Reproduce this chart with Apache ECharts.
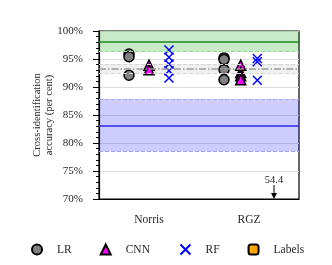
<!DOCTYPE html>
<html><head><meta charset="utf-8">
<script src="https://cdn.jsdelivr.net/npm/echarts@6/dist/echarts.min.js"></script>
<style>html,body{margin:0;padding:0;background:#fff}#c{width:332px;height:265px}</style>
</head><body><div id="c"></div>
<script>
// ---- data ----
const categories = ['Norris', 'RGZ'];
const yTicks = [70, 75, 80, 85, 90, 95, 100];
const lrNorris = [95.9, 95.4, 92.1];
const lrRGZ = [95.2, 94.9, 93.1, 91.3];
const cnnNorris = [93.9, 93.1];
const cnnRGZ = [93.9, 92.6, 92.0, 91.3];
const rfNorris = [96.6, 95.3, 94.1, 92.9, 91.6];
const rfRGZ = [95.1, 94.5, 91.2];
const labelsRGZ = [54.4];
const greenBand = [96.3, 100.0];
const greenMean = [98.1];
const grayBand = [92.5, 94.1];
const grayMean = [93.3];
const blueBand = [78.5, 87.8];
const blueMean = [83.1];

// ---- styles ----
const FONT = 'Liberation Serif';
const TXT = '#262626';
const offsets = { Norris: { LR: -20, CNN: 0, RF: 20, Labels: 40 }, RGZ: { LR: -25, CNN: -8.3, RF: 8.3, Labels: 25 } };
function pts(cat, model, vals) {
  return vals.map(v => ({ value: [cat, v], symbolOffset: [offsets[cat][model], 0] }));
}
const yMin = yTicks[0], yMax = yTicks[yTicks.length - 1];
const crossPath = 'path://M0,0L10,10M10,0L0,10';

const chart = echarts.init(document.getElementById('c'), null, { renderer: 'canvas' });
chart.setOption({
  animation: false,
  textStyle: { fontFamily: FONT },
  grid: { left: 99, right: 33, top: 31, bottom: 66, show: true, borderColor: '#000', borderWidth: 1.2, backgroundColor: 'transparent', containLabel: false, outerBoundsMode: 'none' },
  xAxis: {
    type: 'category', data: categories, boundaryGap: true,
    axisLine: { lineStyle: { color: '#000', width: 1.2 } },
    axisTick: { alignWithLabel: true, length: 5, lineStyle: { color: '#000' } },
    axisLabel: { color: TXT, fontFamily: FONT, fontSize: 11.5, margin: 15 },
    splitLine: { show: false }
  },
  yAxis: {
    type: 'value', min: yMin, max: yMax, interval: 5,
    name: 'Cross-identification\naccuracy (per cent)', nameLocation: 'middle', nameGap: 44, nameMoveOverlap: false,
    nameTextStyle: { color: TXT, fontFamily: FONT, fontSize: 10.5, lineHeight: 12 },
    axisLine: { show: true, lineStyle: { color: '#000', width: 1.2 } },
    axisTick: { show: true, length: 6, lineStyle: { color: '#000' } },
    minorTick: { show: true, splitNumber: 5, length: 3, lineStyle: { color: '#000' } },
    axisLabel: { color: TXT, fontFamily: FONT, fontSize: 11, margin: 16, formatter: '{value}%' },
    splitLine: { show: true, lineStyle: { color: '#dddddd', width: 1 } }
  },
  legend: {
    data: ['LR', 'CNN', 'RF', 'Labels'], left: 26, top: 237, itemGap: 28,
    itemWidth: 10, itemHeight: 10,
    textStyle: { color: TXT, fontFamily: FONT, fontSize: 11.5, padding: [0, 0, 0, 10] }
  },
  series: [
    { type: 'line', name: 'bands', data: [], silent: true, z: 1,
      markArea: { silent: true, data: [
        [{ yAxis: greenBand[0], itemStyle: { color: 'rgba(0,160,0,0.22)' } }, { yAxis: greenBand[1] }],
        [{ yAxis: grayBand[0], itemStyle: { color: 'rgba(128,128,128,0.12)' } }, { yAxis: grayBand[1] }],
        [{ yAxis: blueBand[0], itemStyle: { color: 'rgba(0,0,255,0.2)' } }, { yAxis: blueBand[1] }]
      ] },
      markLine: { silent: true, symbol: 'none', label: { show: false }, data: [
        { yAxis: greenMean[0], lineStyle: { color: '#1f8a1f', width: 1.5, type: 'solid' } },
        { yAxis: greenBand[0], lineStyle: { color: '#99d699', width: 1, type: [4, 2] } },
        { yAxis: grayMean[0], lineStyle: { color: '#9a9a9a', width: 1.5, type: [7, 2, 1.5, 2] } },
        { yAxis: grayBand[0], lineStyle: { color: '#d4d4d4', width: 1, type: [4, 2] } },
        { yAxis: grayBand[1], lineStyle: { color: '#d4d4d4', width: 1, type: [4, 2] } },
        { yAxis: blueMean[0], lineStyle: { color: '#2b2be6', width: 1.5, type: 'solid' } },
        { yAxis: blueBand[0], lineStyle: { color: '#a3a3ff', width: 1, type: [4, 2] } },
        { yAxis: blueBand[1], lineStyle: { color: '#a3a3ff', width: 1, type: [4, 2] } }
      ] }
    },
    { type: 'scatter', name: 'LR', symbol: 'circle', symbolSize: 10, z: 3,
      itemStyle: { color: '#808080', borderColor: '#000', borderWidth: 1.5, opacity: 1 },
      data: pts('Norris', 'LR', lrNorris).concat(pts('RGZ', 'LR', lrRGZ)) },
    { type: 'scatter', name: 'CNN', symbol: 'triangle', symbolSize: 10, z: 3,
      itemStyle: { color: '#ff00ff', borderColor: '#000', borderWidth: 1.5, opacity: 1 },
      data: pts('Norris', 'CNN', cnnNorris).concat(pts('RGZ', 'CNN', cnnRGZ)) },
    { type: 'scatter', name: 'RF', symbol: crossPath, symbolSize: 9, z: 3,
      itemStyle: { color: 'none', borderColor: '#0000ff', borderWidth: 1.5, opacity: 1 },
      data: pts('Norris', 'RF', rfNorris).concat(pts('RGZ', 'RF', rfRGZ)) },
    { type: 'custom', name: 'Labels', z: 4,
      itemStyle: { color: '#ffa500', borderColor: '#000', borderWidth: 1.5 },
      encode: { x: 0, y: 1 },
      data: labelsRGZ.map(v => ['RGZ', v]),
      renderItem: function (params, api) {
        const v = api.value(1);
        const catIdx = api.value(0);
        const cat = categories[catIdx];
        const off = offsets[cat].Labels;
        if (v >= yMin) {
          const p = api.coord([catIdx, v]);
          return { type: 'rect', shape: { x: p[0] + off - 4.5, y: p[1] - 4.5, width: 9, height: 9 },
            style: { fill: '#ffa500', stroke: '#000', lineWidth: 1.5 } };
        }
        const p = api.coord([catIdx, yMin]);
        const x = p[0] + off, y = p[1];
        return { type: 'group', children: [
          { type: 'line', shape: { x1: x, y1: y - 14, x2: x, y2: y - 5 }, style: { stroke: '#000', lineWidth: 1 } },
          { type: 'polygon', shape: { points: [[x - 3, y - 6], [x + 3, y - 6], [x, y]] }, style: { fill: '#000' } },
          { type: 'text', x: x, y: y - 19, style: { text: String(v), fill: TXT, font: '10.5px ' + FONT, align: 'center', verticalAlign: 'middle' } }
        ] };
      }
    }
  ]
});
</script></body></html>
